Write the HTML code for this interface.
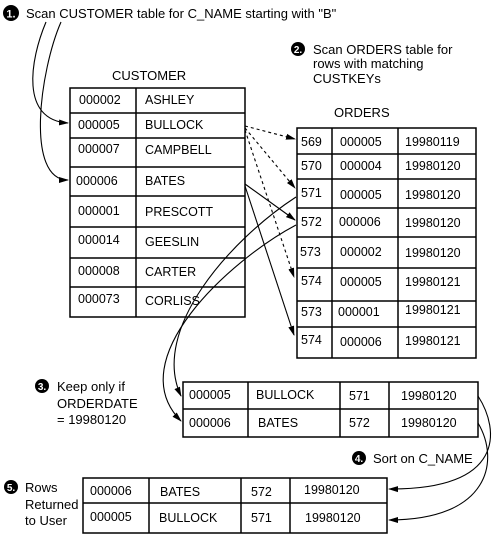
<!DOCTYPE html>
<html><head><style>
body{margin:0;background:#fff;}
svg{display:block;font-family:"Liberation Sans","DejaVu Sans",sans-serif;}
</style></head><body>
<svg width="500" height="534" viewBox="0 0 500 534">
<defs>
<marker id="a" markerWidth="10" markerHeight="8" refX="9" refY="4" orient="auto" markerUnits="userSpaceOnUse"><path d="M0,1 L10,4 L0,7 Z" fill="#000"/></marker>
</defs>
<g fill="#000" font-size="13">
<circle cx="11" cy="13" r="8"/><text x="11" y="17.5" fill="#fff" font-size="11" font-weight="bold" text-anchor="middle">1.</text>
<text x="26" y="18">Scan CUSTOMER table for C_NAME starting with "B"</text>
<circle cx="298" cy="49" r="7"/><text x="298" y="53" fill="#fff" font-size="10" font-weight="bold" text-anchor="middle">2.</text>
<text x="313" y="54">Scan ORDERS table for</text>
<text x="313" y="68">rows with matching</text>
<text x="313" y="83">CUSTKEYs</text>
<text x="112" y="80">CUSTOMER</text>
<text x="334" y="117">ORDERS</text>
<circle cx="42" cy="386" r="7"/><text x="42" y="390" fill="#fff" font-size="10" font-weight="bold" text-anchor="middle">3.</text>
<text x="57" y="391">Keep only if</text>
<text x="57" y="408">ORDERDATE</text>
<text x="57" y="424">= 19980120</text>
<circle cx="359" cy="458" r="7"/><text x="359" y="462" fill="#fff" font-size="10" font-weight="bold" text-anchor="middle">4.</text>
<text x="373" y="463">Sort on C_NAME</text>
<circle cx="11" cy="487" r="7"/><text x="11" y="491" fill="#fff" font-size="10" font-weight="bold" text-anchor="middle">5.</text>
<text x="25" y="492">Rows</text>
<text x="25" y="509">Returned</text>
<text x="25" y="525">to User</text>
</g>
<g fill="none" stroke="#000" stroke-width="1.5">
<rect x="70" y="88" width="175" height="229"/>
<path d="M136 88V317M70 113H245M70 138H245M70 167H245M70 196H245M70 227H245M70 258H245M70 287H245"/>
<rect x="297" y="128" width="179" height="230"/>
<path d="M332 128V358M398 128V358M297 154H476M297 179H476M297 208H476M297 237H476M297 268H476M297 301H476M297 327H476"/>
<rect x="183" y="382" width="295" height="55"/>
<path d="M248 382V437M340 382V437M389 382V437M183 409H478"/>
<rect x="83" y="478" width="304" height="55"/>
<path d="M149 478V533M241 478V533M290 478V533M83 503H387"/>
</g>
<g font-size="12.5" fill="#000">
<text x="79" y="104">000002</text><text x="145" y="104">ASHLEY</text>
<text x="78" y="129">000005</text><text x="145" y="129">BULLOCK</text>
<text x="78" y="153">000007</text><text x="145" y="154">CAMPBELL</text>
<text x="76" y="185">000006</text><text x="145" y="185">BATES</text>
<text x="78" y="215">000001</text><text x="145" y="216">PRESCOTT</text>
<text x="78" y="244">000014</text><text x="145" y="246">GEESLIN</text>
<text x="78" y="275">000008</text><text x="145" y="276">CARTER</text>
<text x="78" y="303">000073</text><text x="145" y="305">CORLISS</text>
<g>
<text x="301" y="146">569</text><text x="340" y="146">000005</text><text x="405" y="146">19980119</text>
<text x="301" y="170">570</text><text x="340" y="170">000004</text><text x="405" y="170">19980120</text>
<text x="301" y="197">571</text><text x="340" y="199">000005</text><text x="405" y="199">19980120</text>
<text x="301" y="226">572</text><text x="339" y="226">000006</text><text x="405" y="227">19980120</text>
<text x="300" y="256">573</text><text x="340" y="256">000002</text><text x="405" y="257">19980120</text>
<text x="301" y="285">574</text><text x="340" y="286">000005</text><text x="405" y="286">19980121</text>
<text x="301" y="316">573</text><text x="338" y="316">000001</text><text x="405" y="314">19980121</text>
<text x="301" y="344">574</text><text x="340" y="346">000006</text><text x="405" y="345">19980121</text>
</g>
<text x="189" y="399">000005</text><text x="256" y="399">BULLOCK</text><text x="349" y="400">571</text><text x="401" y="400">19980120</text>
<text x="189" y="427">000006</text><text x="258" y="427">BATES</text><text x="349" y="427">572</text><text x="401" y="427">19980120</text>
<text x="90" y="495">000006</text><text x="160" y="496">BATES</text><text x="251" y="496">572</text><text x="304" y="494">19980120</text>
<text x="90" y="521">000005</text><text x="159" y="522">BULLOCK</text><text x="251" y="522">571</text><text x="305" y="522">19980120</text>
</g>
<g fill="none" stroke="#000" stroke-width="1.1">
<path d="M46 22 C30 60,20 120,68 123" marker-end="url(#a)"/>
<path d="M61 22 C40 70,25 180,68 180" marker-end="url(#a)"/>
<path d="M245 184 L295 220" marker-end="url(#a)"/>
<path d="M245 186 L294 335" marker-end="url(#a)"/>
<path d="M296 197 C230 240,150 330,181 396" marker-end="url(#a)"/>
<path d="M296 225 C230 260,120 360,181 421" marker-end="url(#a)"/>
<path d="M478 396 C500 430,505 490,389 489" marker-end="url(#a)"/>
<path d="M478 423 C500 460,490 520,389 520" marker-end="url(#a)"/>
<g stroke-dasharray="3,3">
<path d="M245 126 L295 139" marker-end="url(#a)"/>
<path d="M245 128 L295 188" marker-end="url(#a)"/>
<path d="M245 130 L294 277" marker-end="url(#a)"/>
</g>
</g>
</svg>
</body></html>
